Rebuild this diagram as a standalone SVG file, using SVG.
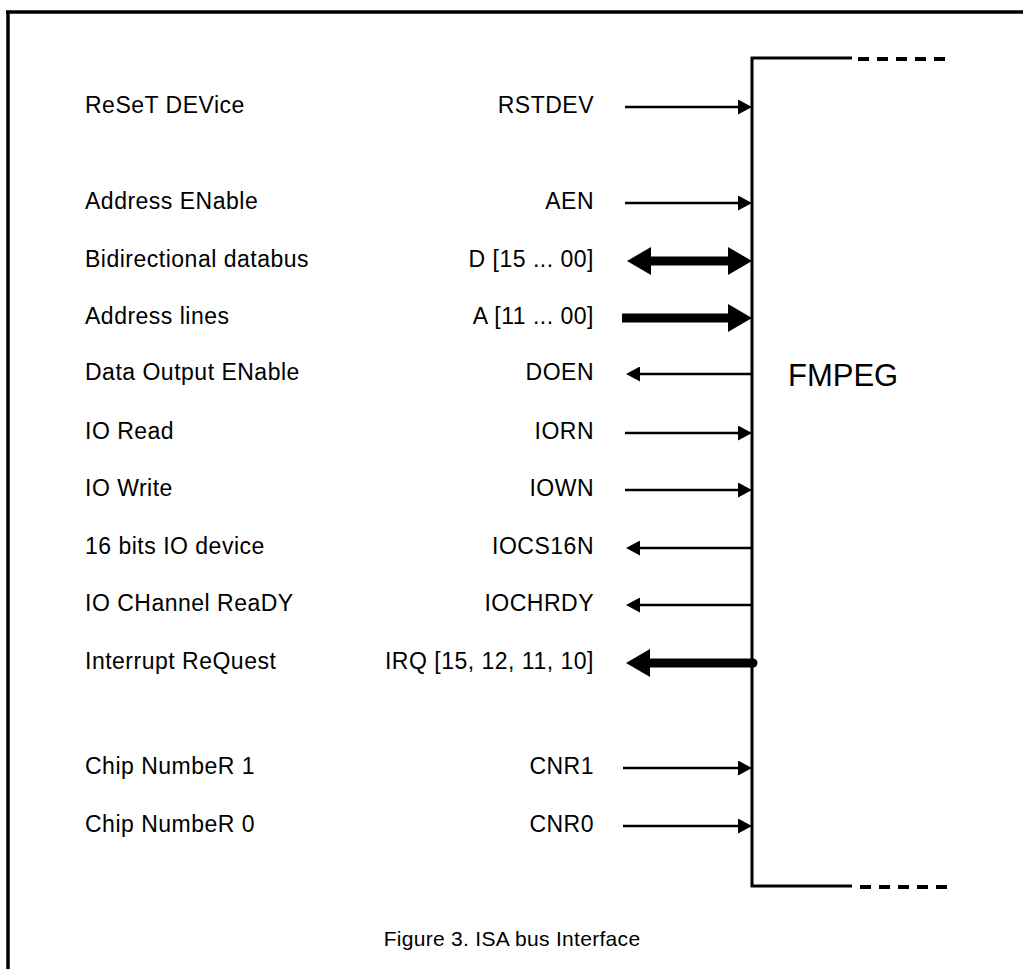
<svg xmlns="http://www.w3.org/2000/svg" width="1023" height="969" viewBox="0 0 1023 969">
<style>
.lbl{font-family:"Liberation Sans",Arial,Helvetica,sans-serif;font-size:23px;letter-spacing:0.5px;fill:#000}
.sig{text-anchor:end}
.thin{stroke:#000;stroke-width:2.6;fill:none}
.thick{stroke:#000;stroke-width:9;fill:none}
.frame{stroke:#000;stroke-width:3.5;fill:none}
.box{stroke:#000;stroke-width:3;fill:none}
.dash{stroke:#000;stroke-width:4;fill:none;stroke-dasharray:11 8}
</style>
<defs>
<marker id="hThin" markerUnits="userSpaceOnUse" markerWidth="14" markerHeight="15" refX="0" refY="7.5" orient="auto"><path d="M0,0 L14,7.5 L0,15 z" fill="#000"/></marker>
<marker id="hThick" markerUnits="userSpaceOnUse" markerWidth="24" markerHeight="28" refX="0" refY="14" orient="auto-start-reverse"><path d="M0,0 L24,14 L0,28 z" fill="#000"/></marker>
</defs>
<rect x="0" y="0" width="1023" height="969" fill="#fff"/>
<g id="frame">
<line class="frame" x1="6" y1="12" x2="1023" y2="12"/>
<line class="frame" x1="8" y1="11" x2="8" y2="969"/>
</g>
<g id="fmpeg">
<path class="box" d="M852,58 L752,58 L752,886 L852,886"/>
<line class="dash" x1="858" y1="59" x2="950" y2="59"/>
<line class="dash" x1="860" y1="887" x2="950" y2="887"/>
<text class="lbl" x="788" y="386" style="font-size:31px;letter-spacing:0">FMPEG</text>
</g>
<g id="descriptions">
<text class="lbl" x="85" y="113">ReSeT DEVice</text>
<text class="lbl" x="85" y="209">Address ENable</text>
<text class="lbl" x="85" y="267">Bidirectional databus</text>
<text class="lbl" x="85" y="324">Address lines</text>
<text class="lbl" x="85" y="380">Data Output ENable</text>
<text class="lbl" x="85" y="439">IO Read</text>
<text class="lbl" x="85" y="496">IO Write</text>
<text class="lbl" x="85" y="554">16 bits IO device</text>
<text class="lbl" x="85" y="611">IO CHannel ReaDY</text>
<text class="lbl" x="85" y="669">Interrupt ReQuest</text>
<text class="lbl" x="85" y="774">Chip NumbeR 1</text>
<text class="lbl" x="85" y="832">Chip NumbeR 0</text>
</g>
<g id="signals">
<text class="lbl sig" x="594" y="113">RSTDEV</text>
<text class="lbl sig" x="594" y="209">AEN</text>
<text class="lbl sig" x="594" y="267">D [15 ... 00]</text>
<text class="lbl sig" x="594" y="324">A [11 ... 00]</text>
<text class="lbl sig" x="594" y="380">DOEN</text>
<text class="lbl sig" x="594" y="439">IORN</text>
<text class="lbl sig" x="594" y="496">IOWN</text>
<text class="lbl sig" x="594" y="554">IOCS16N</text>
<text class="lbl sig" x="594" y="611">IOCHRDY</text>
<text class="lbl sig" x="594" y="669">IRQ [15, 12, 11, 10]</text>
<text class="lbl sig" x="594" y="774">CNR1</text>
<text class="lbl sig" x="594" y="832">CNR0</text>
</g>
<g id="connectors">
<line class="thin" x1="625" y1="107" x2="738" y2="107" marker-end="url(#hThin)"/>
<line class="thin" x1="625" y1="203" x2="738" y2="203" marker-end="url(#hThin)"/>
<line class="thick" x1="651" y1="261" x2="728" y2="261" marker-start="url(#hThick)" marker-end="url(#hThick)"/>
<line class="thick" x1="622" y1="318" x2="728" y2="318" marker-end="url(#hThick)"/>
<line class="thin" x1="752" y1="374" x2="640" y2="374" marker-end="url(#hThin)"/>
<line class="thin" x1="625" y1="433" x2="738" y2="433" marker-end="url(#hThin)"/>
<line class="thin" x1="625" y1="490" x2="738" y2="490" marker-end="url(#hThin)"/>
<line class="thin" x1="752" y1="548" x2="640" y2="548" marker-end="url(#hThin)"/>
<line class="thin" x1="752" y1="605" x2="640" y2="605" marker-end="url(#hThin)"/>
<line class="thick" x1="753" y1="663" x2="650" y2="663" stroke-linecap="round" marker-end="url(#hThick)"/>
<line class="thin" x1="623" y1="768" x2="738" y2="768" marker-end="url(#hThin)"/>
<line class="thin" x1="623" y1="826" x2="738" y2="826" marker-end="url(#hThin)"/>
</g>
<g id="caption">
<text class="lbl" x="512" y="946" text-anchor="middle" style="font-size:21px;letter-spacing:0.3px">Figure 3. ISA bus Interface</text>
</g>
</svg>
